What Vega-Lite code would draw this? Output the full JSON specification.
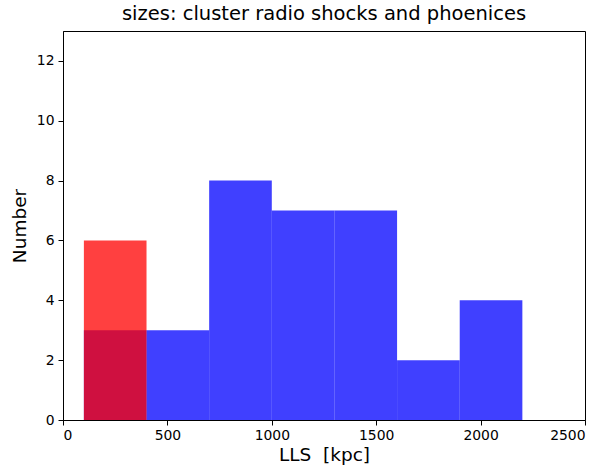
{
  "$schema": "https://vega.github.io/schema/vega-lite/v6.json",
  "width": 522,
  "height": 389,
  "autosize": {"type": "none"},
  "padding": {"left": 63, "top": 31, "right": 25, "bottom": 52},
  "background": "white",
  "config": {
    "font": "DejaVu Sans",
    "view": {"stroke": "black", "strokeWidth": 1}
  },
  "title": {
    "text": "sizes: cluster radio shocks and phoenices",
    "fontSize": 19.5,
    "fontWeight": "normal",
    "font": "DejaVu Sans",
    "color": "black",
    "anchor": "middle",
    "offset": 7
  },
  "data": {
    "values": [
      {"series": "shocks", "lo": 100, "hi": 400, "count": 3},
      {"series": "shocks", "lo": 400, "hi": 700, "count": 3},
      {"series": "shocks", "lo": 700, "hi": 1000, "count": 8},
      {"series": "shocks", "lo": 1000, "hi": 1300, "count": 7},
      {"series": "shocks", "lo": 1300, "hi": 1600, "count": 7},
      {"series": "shocks", "lo": 1600, "hi": 1900, "count": 2},
      {"series": "shocks", "lo": 1900, "hi": 2200, "count": 4},
      {"series": "phoenices", "lo": 100, "hi": 400, "count": 6}
    ]
  },
  "mark": {"type": "rect", "opacity": 0.75},
  "encoding": {
    "x": {
      "field": "lo",
      "type": "quantitative",
      "scale": {"domain": [0, 2500], "nice": false, "zero": false},
      "axis": {
        "title": "LLS\u00a0 [kpc]",
        "values": [0, 500, 1000, 1500, 2000, 2500],
        "format": "d",
        "grid": false,
        "domainColor": "black",
        "tickColor": "black",
        "tickSize": 5,
        "labelFontSize": 13.9,
        "labelColor": "black",
        "labelPadding": 3,
        "titleFontSize": 18.5,
        "titleFontWeight": "normal",
        "titleColor": "black",
        "titlePadding": 4
      }
    },
    "x2": {"field": "hi"},
    "y": {
      "field": "count",
      "type": "quantitative",
      "scale": {"domain": [0, 13], "nice": false},
      "axis": {
        "title": "Number",
        "values": [0, 2, 4, 6, 8, 10, 12],
        "format": "d",
        "grid": false,
        "domainColor": "black",
        "tickColor": "black",
        "tickSize": 5,
        "labelFontSize": 13.9,
        "labelColor": "black",
        "labelPadding": 4,
        "titleFontSize": 18.5,
        "titleFontWeight": "normal",
        "titleColor": "black",
        "titlePadding": 7
      }
    },
    "y2": {"datum": 0},
    "color": {
      "field": "series",
      "type": "nominal",
      "scale": {"domain": ["shocks", "phoenices"], "range": ["#0000ff", "#ff0000"]},
      "legend": null
    }
  }
}
